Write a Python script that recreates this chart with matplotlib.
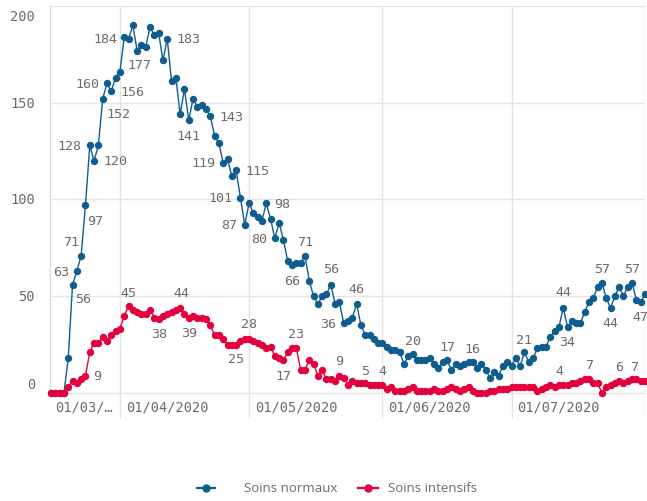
import numpy as np
import matplotlib
matplotlib.use('Agg')
import matplotlib.pyplot as plt
import matplotlib.dates as mdates
from matplotlib.lines import Line2D

#------------------------------------------------------------------------------
#Donnees (une valeur par jour a partir du 16/03/2020).
debut = '2020-03-16'
soins_normaux = [0, 0, 0, 0, 18, 56, 63, 71, 97, 128, 120, 128, 152, 160, 156, 163,
                 166, 184, 183, 190, 177, 180, 179, 189, 185, 186, 172, 183, 161, 163, 144,
                 157, 141, 152, 148, 149, 147, 143, 133, 129, 119, 121, 112, 115, 101, 87,
                 98, 93, 91, 89, 98, 90, 80, 88, 79, 68, 66, 67, 67, 71, 58, 50, 46, 50,
                 51, 56, 46, 47, 36, 37, 39, 46, 35, 30, 30, 28, 26,
                 26, 24, 22, 22, 21, 15, 19, 20, 17, 17, 17, 18, 15, 13, 16, 17, 12, 15,
                 14, 15, 16, 16, 13, 15, 12, 8, 11, 9, 14, 16,
                 14, 18, 14, 21, 16, 18, 23, 24, 24, 29, 32, 34, 44, 34, 37, 36, 36, 42,
                 47, 49, 55, 57, 49, 44, 50, 55, 50, 55, 57, 48, 47,
                 51]
soins_intensifs = [0, 0, 0, 0, 3, 6, 5, 7, 9, 21, 26, 26, 29, 27, 30, 32,
                   33, 40, 45, 43, 42, 41, 41, 43, 39, 38, 40, 41, 42, 43, 44,
                   41, 39, 40, 39, 39, 38, 35, 30, 30, 28, 25, 25, 25, 27, 28,
                   28, 27, 26, 25, 23, 24, 19, 18, 17, 21, 23, 23, 12, 12, 17, 15, 9, 12,
                   7, 7, 6, 9, 8, 4, 6, 5, 5, 5, 4, 4, 4,
                   4, 2, 3, 1, 1, 1, 2, 3, 1, 1, 1, 1, 2, 1, 1, 2, 3, 2,
                   1, 2, 3, 1, 0, 0, 0, 1, 1, 2, 2, 2,
                   3, 3, 3, 3, 3, 3, 1, 2, 3, 4, 3, 4, 4, 4, 5, 5, 6, 7,
                   7, 5, 5, 0, 3, 4, 5, 6, 5, 6, 7, 7, 6,
                   6]
series = ['Soins normaux', 'Soins intensifs']
mois = ['2020-04-01', '2020-05-01', '2020-06-01', '2020-07-01', '2020-08-01']
mois_labels = ['01/04/2020', '01/05/2020', '01/06/2020', '01/07/2020']
premier_label = '01/03/\u2026'
y_ticks = [0, 50, 100, 150, 200]

#Etiquettes de valeurs : date, decalage en pixels (dx, dy vers le bas).
labels_normaux = [('2020-03-21', 11, 14), ('2020-03-22', -16, 0), ('2020-03-23', -10, -14),
                  ('2020-03-24', 10, 15), ('2020-03-25', -20, 0), ('2020-03-26', 21, 0),
                  ('2020-03-28', 16, 15), ('2020-03-29', -20, 0), ('2020-03-30', 21, 0),
                  ('2020-04-02', -19, 2), ('2020-04-05', 2, 14), ('2020-04-12', 21, 0),
                  ('2020-04-17', 0, 15), ('2020-04-22', 21, 0), ('2020-04-25', -20, 0),
                  ('2020-04-28', 21, 0), ('2020-04-29', -20, 0), ('2020-04-30', -16, 0),
                  ('2020-05-05', 16, 0), ('2020-05-07', -16, 0), ('2020-05-11', 0, 15),
                  ('2020-05-14', 0, -14), ('2020-05-20', 0, -16), ('2020-05-23', -16, 0),
                  ('2020-05-26', 0, -15), ('2020-06-08', 0, -14), ('2020-06-16', 0, -14),
                  ('2020-06-22', 0, -14), ('2020-07-04', 0, -13), ('2020-07-13', 0, -16),
                  ('2020-07-14', 0, 14), ('2020-07-22', 0, -14), ('2020-07-24', 0, 15),
                  ('2020-07-29', 0, -14), ('2020-07-31', 0, 14)]
labels_intensifs = [('2020-03-24', 12, 0), ('2020-04-03', 0, -13), ('2020-04-10', 0, 14),
                    ('2020-04-15', 1, -15), ('2020-04-17', 0, 15), ('2020-04-28', 0, 14),
                    ('2020-05-01', 0, -15), ('2020-05-09', 0, 15), ('2020-05-12', 0, -15),
                    ('2020-05-22', 0, -15), ('2020-05-28', 0, -13), ('2020-06-01', 0, -15),
                    ('2020-07-12', 0, -15), ('2020-07-19', 0, -15), ('2020-07-26', 0, -15),
                    ('2020-07-30', -2, -13)]

#------------------------------------------------------------------------------
bleu = '#0f5d8f'
rouge = '#e4003c'
gris = '#6b6b6b'
grille = '#e3e3e3'
mono = 'DejaVu Sans Mono'
px = 0.72  #pixels -> points (dpi 100)

jours = np.arange(np.datetime64(debut), np.datetime64(debut) + len(soins_normaux))
x = mdates.date2num(jours)

fig = plt.figure(figsize=(6.47, 5.02), dpi=100)
ax = fig.add_axes([50 / 647, 1 - 420 / 502, 595 / 647, 413 / 502])
ax.set_xlim(x[0] - 0.24, x[-1])
ax.set_ylim(-13.44, 200)

for v in y_ticks:
    ax.axhline(v, color=grille, lw=1, zorder=0)
for d in mois:
    ax.axvline(mdates.date2num(np.datetime64(d)), color=grille, lw=1, zorder=0)

for s in ['top', 'right', 'bottom']:
    ax.spines[s].set_visible(False)
ax.spines['left'].set_bounds(0, 200)
ax.spines['left'].set_color('#d6d6d6')
ax.set_xticks([])
ax.set_yticks([])

#Graduations de l'axe Y.
for v in y_ticks:
    dy = -10 if v == 200 else (9 if v == 0 else 0)
    ax.annotate(str(v), xy=(0, v), xycoords=('axes fraction', 'data'),
                xytext=(-15 * px, dy * px), textcoords='offset points',
                ha='right', va='center', fontsize=9.8, family=mono, color=gris)

#Graduations de l'axe X.
ax.annotate(premier_label, xy=(0, 0), xycoords=('axes fraction', 'data'),
            xytext=(5 * px, -14 * px), textcoords='offset points',
            ha='left', va='center', fontsize=9.8, family=mono, color=gris)
for d, lab in zip(mois, mois_labels):
    ax.annotate(lab, xy=(mdates.date2num(np.datetime64(d)), 0),
                xytext=(6 * px, -14 * px), textcoords='offset points',
                ha='left', va='center', fontsize=9.8, family=mono, color=gris)

#Courbes.
ax.plot(x, soins_normaux, color=bleu, lw=1.0, marker='o', ms=4.3, clip_on=False, zorder=3)
ax.plot(x, soins_intensifs, color=rouge, lw=1.0, marker='o', ms=4.3, clip_on=False, zorder=4)

#Etiquettes de valeurs.
for valeurs, labels in [(soins_normaux, labels_normaux), (soins_intensifs, labels_intensifs)]:
    for d, dx, dy in labels:
        i = int((np.datetime64(d) - np.datetime64(debut)).astype(int))
        ax.annotate(str(valeurs[i]), xy=(x[i], valeurs[i]),
                    xytext=(dx * px, -dy * px), textcoords='offset points',
                    ha='center', va='center', fontsize=9.6, family=mono, color=gris, zorder=5)

#Legende.
yl = 1 - 489 / 502
for (x0, x1), col, tx, lab in [((197, 215), bleu, 244, series[0]), ((358, 378), rouge, 388, series[1])]:
    fig.add_artist(Line2D([x0 / 647, x1 / 647], [yl, yl], transform=fig.transFigure, color=col, lw=1.6))
    fig.add_artist(Line2D([(x0 + x1) / 2 / 647], [yl], transform=fig.transFigure, color=col,
                          marker='o', ms=5))
    fig.text(tx / 647, yl, lab, ha='left', va='center', fontsize=9.5, family='Open Sans', color=gris)

fig.savefig('out.png', dpi=100)
